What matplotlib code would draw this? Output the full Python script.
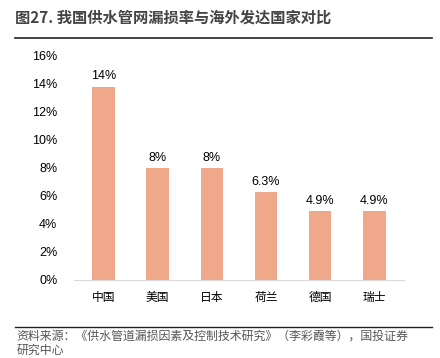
import matplotlib
matplotlib.use("Agg")
import matplotlib.pyplot as plt
from matplotlib.lines import Line2D

plt.rcParams['font.family'] = ['Noto Sans CJK SC', 'DejaVu Sans']

countries = ["中国", "美国", "日本", "荷兰", "德国", "瑞士"]
loss_rate = [0.138, 0.08, 0.08, 0.063, 0.049, 0.049]
bar_labels = ["14%", "8%", "8%", "6.3%", "4.9%", "4.9%"]
yticks = [0, 0.02, 0.04, 0.06, 0.08, 0.10, 0.12, 0.14, 0.16]

title = "图27. 我国供水管网漏损率与海外发达国家对比"
source = "资料来源：《供水管道漏损因素及控制技术研究》（李彩霞等），国投证券\n研究中心"

fig = plt.figure(figsize=(4.4, 3.58), dpi=100)
ax = fig.add_axes([0.168, 0.218, 0.75, 0.626])

x = range(len(countries))
ax.bar(x, loss_rate, width=0.42, color="#EFA98A")
for xi, v, lab in zip(x, loss_rate, bar_labels):
    ax.text(xi, v + 0.003, lab, ha="center", va="bottom", fontsize=9,
            family=["Liberation Sans", "DejaVu Sans"])

ax.set_xlim(-0.55, len(countries) - 0.45)
ax.set_ylim(0, 0.16)
ax.set_yticks(yticks)
ax.set_yticklabels([f"{t*100:.0f}%" for t in yticks], fontsize=9,
                   family=["Liberation Sans", "DejaVu Sans"])
ax.set_xticks(list(x))
ax.set_xticklabels(countries, fontsize=8.5)
ax.tick_params(axis="both", length=0, pad=8)
ax.tick_params(axis="y", pad=12)
for s in ["top", "right", "left"]:
    ax.spines[s].set_visible(False)
ax.spines["bottom"].set_color("#d9d9d9")

# title and source with rules
fig.text(0.035, 0.952, title, fontsize=11, fontweight="bold", color="#444444",
         va="center", ha="left")
fig.add_artist(Line2D([0.034, 0.982], [0.894, 0.894], color="#222222", lw=1.2,
                      transform=fig.transFigure))
fig.add_artist(Line2D([0.034, 0.982], [0.087, 0.087], color="#222222", lw=1.0,
                      transform=fig.transFigure))
fig.text(0.038, 0.078, source, fontsize=8.6, color="#555555", va="top", ha="left",
         style="italic", linespacing=1.1)

fig.savefig("out.png", dpi=100)
